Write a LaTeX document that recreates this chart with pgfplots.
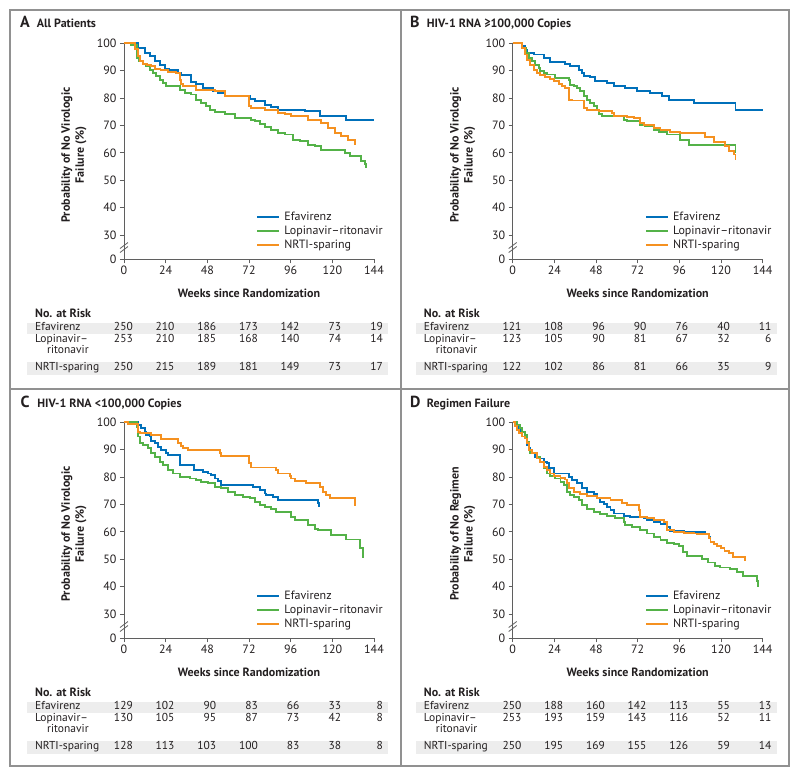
\documentclass[border=0pt]{standalone}
\usepackage{fontspec}
\setmainfont{PT Sans}
\usepackage{pgfplots}
\pgfplotsset{compat=1.18}

\definecolor{efv}{RGB}{0,112,186}
\definecolor{lpv}{RGB}{84,178,72}
\definecolor{nrti}{RGB}{245,145,32}
\definecolor{framec}{RGB}{145,145,145}
\definecolor{band}{RGB}{237,237,237}
\definecolor{txt}{RGB}{35,31,32}
\definecolor{axisc}{RGB}{95,95,95}

\pgfplotsset{
  km/.style={
    scale only axis, width=250pt, height=216pt,
    xmin=0, xmax=144, ymin=21.13, ymax=100,
    axis lines=left, axis line style={-, axisc, line width=0.9pt},
    xtick={0,24,48,72,96,120,144},
    xticklabels={0,24,48,72,96,120,144},
    ytick={21.13,30,40,50,60,70,80,90,100},
    yticklabels={0,30,40,50,60,70,80,90,100},
    tick align=outside, major tick length=4pt,
    tick style={axisc, line width=0.8pt},
    ticklabel style={font=\fontsize{12}{13}\selectfont, text=txt},
    xticklabel style={yshift=1pt},
    label style={font=\bfseries\fontsize{12}{14}\selectfont, text=txt},
    xlabel={Weeks since Randomization},
    xlabel style={at={(axis description cs:0.5,-0.156)}, anchor=center},
    ylabel style={at={(axis description cs:-0.2,0.483)}, anchor=center, align=center},
    clip=false,
    legend style={at={(0.517,0.233)}, anchor=north west, draw=none, fill=none,
      font=\fontsize{12}{13}\selectfont, text=txt, row sep=2pt,
      nodes={inner sep=0pt, text height=9pt, text depth=3pt},
      /tikz/every odd column/.style={column sep=4pt}},
    legend cell align=left,
    legend image code/.code={\draw[#1] (0pt,0pt) -- (22pt,0pt);},
    every axis plot/.append style={const plot, line width=1.9pt},
  }
}

% break marks on the y axis
\newcommand{\ybreak}{%
  \draw[axisc, line width=0.8pt] ([shift={(-4pt,-6pt)}]axis cs:0,25.8) -- ++(8pt,6pt);
  \draw[axisc, line width=0.8pt] ([shift={(-4pt,-2pt)}]axis cs:0,25.8) -- ++(8pt,6pt);
}

% panel title: #1 x, #2 y, #3 letter, #4 text
\newcommand{\ptitle}[4]{%
  \node[anchor=mid west, inner sep=0pt, text=txt, font=\bfseries\fontsize{16}{16}\selectfont] at (#1pt,#2pt) {#3};
  \node[anchor=mid west, inner sep=0pt, text=txt, font=\bfseries\fontsize{12}{13}\selectfont] at (#1pt+16.7pt,#2pt) {#4};
}

% risk table: #1 x origin, #2 y of the x axis, #3 efv, #4 lpv, #5 nrti
\newcommand{\risktable}[5]{%
  \begin{scope}[shift={(#1pt,#2pt)}, every node/.style={inner sep=0pt, text=txt, font=\fontsize{11.5}{13}\selectfont}]
    \fill[band] (-97pt,-63.2pt) rectangle (264pt,-74.4pt);
    \fill[band] (-97pt,-102.6pt) rectangle (264pt,-115.8pt);
    \node[anchor=mid west, font=\bfseries\fontsize{12}{13}\selectfont] at (-89pt,-55.7pt) {No. at Risk};
    \node[anchor=mid west] at (-89pt,-69pt) {Efavirenz};
    \node[anchor=mid west] at (-89pt,-80.7pt) {Lopinavir–};
    \node[anchor=mid west] at (-77pt,-91.5pt) {ritonavir};
    \node[anchor=mid west] at (-89pt,-109pt) {NRTI-sparing};
    \foreach \v [count=\i from 0] in {#3} \node[anchor=mid east] at ({\i*41.667pt+9pt},-69pt) {\v};
    \foreach \v [count=\i from 0] in {#4} \node[anchor=mid east] at ({\i*41.667pt+9pt},-80.7pt) {\v};
    \foreach \v [count=\i from 0] in {#5} \node[anchor=mid east] at ({\i*41.667pt+9pt},-109pt) {\v};
  \end{scope}
}

\begin{document}
\begin{tikzpicture}
\useasboundingbox (0,0) rectangle (800pt,-776pt);

% panel frames
\draw[framec, line width=1.2pt] (10pt,-10pt) rectangle (789pt,-766pt);
\draw[framec, line width=1.2pt] (401pt,-10pt) -- (401pt,-766pt);
\draw[framec, line width=1.2pt] (10pt,-389pt) -- (789pt,-389pt);

% ---------------- A
\ptitle{20}{-25}{A}{All Patients}
\begin{axis}[km, at={(124pt,-259.3pt)}, anchor=south west,
  ylabel={Probability of No Virologic\\Failure (\%)}]
\addplot[efv] coordinates {(0,100)(7.1,100)(8.1,98.3)(11.9,96.5)(14.8,95.3)(17.7,93.7)(20.5,92.2)(23.4,90.8)(26,90.3)(31.1,89)(33,88.3)(38.8,86)(41.7,85)(45.5,83.7)(51.3,82.7)(54.1,81.9)(58,80.7)(72.4,79.8)(75.3,78.8)(81,77.6)(84.9,76.6)(88.7,75.8)(104,75.2)(112.7,73.4)(128,72.1)(144,72.1)};
\addplot[lpv] coordinates {(0,100)(4.2,99.3)(7.7,94.6)(8.4,93.4)(10.9,92.6)(12.9,91.6)(14.8,90.4)(16.7,89.2)(18.6,88)(20.5,86.7)(22.5,85.5)(24.4,84.3)(32.1,83.1)(34.9,81.9)(38.8,81.3)(41.7,79.4)(44.5,78.2)(47.4,77)(49.3,75.8)(52.2,74.9)(58,74.2)(63.7,72.7)(73.3,72.1)(75.3,71.5)(78.1,70.6)(81,69.3)(84.9,68.5)(88.7,67.3)(92.6,66.7)(97.4,64.8)(101.2,64.2)(106,63)(109.8,62.4)(113.7,61.2)(127.1,60)(130,58.8)(136.7,56.9)(138.6,55.8)(139.4,54.3)};
\addplot[nrti] coordinates {(0,100)(5.2,100)(6.1,98)(8.1,95.3)(9,93.4)(10.9,92.6)(13,92)(15.7,91.6)(17.7,90.6)(21,90.2)(25.3,89.5)(30,89)(32.1,86.7)(33,85)(34,84.3)(41.7,83.1)(52.2,82.5)(58,80.7)(71.8,77)(73.3,76.4)(81,75.8)(88.7,74.6)(92.6,74.2)(96.4,73.4)(106,72.1)(113.7,70.9)(117.5,69.1)(121.4,67.3)(125.2,66.1)(129,64.8)(132.9,63.6)(133.3,63)};
\legend{Efavirenz,Lopinavir–ritonavir,NRTI-sparing}
\ybreak
\end{axis}
\risktable{124}{-259.3}{250,210,186,173,142,73,19}{253,210,185,168,140,74,14}{250,215,189,181,149,73,17}

% ---------------- B
\ptitle{410}{-25}{B}{HIV-1 RNA ≥100,000 Copies}
\begin{axis}[km, at={(512.7pt,-259.3pt)}, anchor=south west,
  ylabel={Probability of No Virologic\\Failure (\%)}]
\addplot[efv] coordinates {(0,100)(4.4,100)(5.4,98.9)(7.3,97.7)(8.3,96.5)(12.1,95.9)(17.9,94.6)(21.7,93.2)(30.3,92.5)(33.2,91.6)(38,90.4)(39.9,89.2)(40.9,88)(44.7,87.6)(47.6,86.1)(54.3,85.5)(58.2,84.3)(64.9,83.7)(71.6,82.7)(79.3,81.9)(86,80.7)(89.9,79.4)(104.3,78.2)(128.3,75.8)(144,75.8)};
\addplot[lpv] coordinates {(0,100)(5.4,98.3)(7.9,96.5)(9.2,94.6)(11.1,93.4)(13.1,92.2)(15,91)(15.9,89.8)(17.9,89.2)(19.8,88.6)(24.6,87.3)(32.3,86.7)(33.2,84.9)(35.1,84.3)(37.1,83.7)(39,82.5)(40.9,80.7)(42.8,79.4)(44.7,78.2)(46.7,77)(48.6,75.8)(49.5,74.2)(51.5,73.4)(63.9,72.1)(65.9,71.5)(73.5,70.3)(76.4,69.7)(81.2,68.5)(84.1,67.5)(88.9,66.7)(96.6,64.8)(101.4,63)(128.3,63)(128.3,60)};
\addplot[nrti] coordinates {(0,100)(5.4,98.3)(7.3,95.9)(8.3,94)(10.2,92.2)(12.1,90.4)(14,89.2)(15.9,88.3)(18.8,87.6)(21.7,87.1)(23.6,86.1)(26.5,85.2)(28.4,84.3)(30.3,83.7)(32.3,79.4)(34,79.1)(40.9,76.4)(42.8,75.8)(49.5,75.4)(57.2,74.6)(58.2,73.4)(65.9,73)(69.7,72.7)(73.5,70.9)(75.5,70.1)(81.2,69.1)(85.1,68.5)(90.8,67.5)(96.6,67.3)(111,65.7)(115.8,64)(122.5,62.4)(124.4,60.8)(127.3,59.4)(128.3,57.5)};
\legend{Efavirenz,Lopinavir–ritonavir,NRTI-sparing}
\ybreak
\end{axis}
\risktable{512.7}{-259.3}{121,108,96,90,76,40,11}{123,105,90,81,67,32,6}{122,102,86,81,66,35,9}

% ---------------- C
\ptitle{20.5}{-405}{C}{HIV-1 RNA <100,000 Copies}
\begin{axis}[km, at={(124pt,-638.3pt)}, anchor=south west,
  ylabel={Probability of No Virologic\\Failure (\%)}]
\addplot[efv] coordinates {(0,100)(7.1,100)(8.1,99)(10,97.8)(11.9,96.6)(12.9,95.4)(14.8,94.8)(15.7,93.3)(17.7,92.3)(19.6,91.1)(21.5,89.9)(24.4,88.7)(25.3,88)(32.1,84.4)(40.3,82.6)(45.5,82)(48.4,81.3)(50.3,80.7)(52.2,79.5)(54.1,78.7)(56.1,77.1)(74.3,76.5)(78.1,75.2)(81,74)(82,73.4)(85.8,72.8)(88.7,71.6)(111.8,70.4)(112.3,68.9)};
\addplot[lpv] coordinates {(0,100)(7.1,100)(7.7,98.4)(8.1,94.8)(9,92.3)(10.9,91.7)(13.8,90.5)(15.7,88.7)(17.7,87.4)(20.5,85.6)(22.5,84.4)(25.3,82.6)(28.2,81.3)(32.1,80.1)(37.8,79.5)(41.7,78.9)(44.5,78.3)(48.4,77.7)(52.2,76.5)(56.1,75.9)(59.9,74.6)(63.7,73.4)(68.5,72.8)(72.4,72.2)(75.3,71)(78.1,69.8)(81,69.1)(84.9,68.2)(87.7,67.3)(96.4,65.5)(98.3,64.3)(106,62.4)(109.8,61.2)(111.8,60.6)(119.4,59)(128,57.2)(135.8,54.2)(137.7,50.3)};
\addplot[nrti] coordinates {(0,100)(2.3,99.4)(8.1,96.6)(9,96)(15.7,95.4)(21.5,93.8)(31.1,92.6)(33,91.3)(34,90.5)(36.9,89.9)(55.1,88.7)(56.1,87.7)(72,85)(73,83.5)(87.7,82.6)(88.7,81.3)(95.4,80.5)(96.4,79.5)(98.3,78.7)(105,77.7)(112.7,76.5)(114.6,74.6)(116.5,73.4)(118.5,72.4)(133,72.4)(133.3,69.4)};
\legend{Efavirenz,Lopinavir–ritonavir,NRTI-sparing}
\ybreak
\end{axis}
\risktable{124}{-638.3}{129,102,90,83,66,33,8}{130,105,95,87,73,42,8}{128,113,103,100,83,38,8}

% ---------------- D
\ptitle{410}{-405}{D}{Regimen Failure}
\begin{axis}[km, at={(512.7pt,-638.3pt)}, anchor=south west,
  ylabel={Probability of No Regimen\\Failure (\%)}]
\addplot[efv] coordinates {(0,100)(1.5,100)(2.5,99)(3.5,97.8)(4.4,96)(5.4,94.8)(7.3,94.1)(8.3,91.7)(9.2,90.5)(10.2,89.9)(11.1,88.7)(13.1,87.4)(15.9,86.8)(17.9,85.6)(19.8,85)(20.7,83.2)(23.6,81.3)(32.3,80.1)(34.2,78.9)(37.1,77.7)(39.9,75.9)(42.8,74.6)(46.7,73.8)(48.6,72.2)(50.5,71)(52.4,70.1)(54.3,69.1)(56.3,67.9)(58.2,66.7)(63.9,65.7)(67.8,65.5)(75.5,64.9)(77.4,64.3)(81.2,63.7)(85.1,63)(88.9,61.8)(90.8,60.4)(98.5,60)(111,59.1)(112.9,58.2)(113.9,57.2)};
\addplot[lpv] coordinates {(0,100)(1.5,100)(2.5,99)(4.4,97.8)(5.4,96.6)(7.3,95.4)(8.3,92.9)(9.2,89.9)(10.2,88.7)(14,87.4)(15.9,85.6)(17.9,83.2)(19.8,81.3)(21.7,80.4)(24.6,79.5)(27.5,78.3)(29.4,77.1)(31.3,74.6)(33.2,73.4)(35.1,72.8)(38,71.6)(39.9,69.8)(42.8,68.5)(46.7,67.3)(50.5,66.5)(54.3,65.9)(59.1,64.9)(63.9,63.7)(64.9,62.4)(68.7,61.8)(73.5,60.6)(77.4,59.4)(81.2,58.2)(85.1,57)(88.9,56)(92.7,55.5)(95.6,54.8)(98.3,52.5)(100.2,51.3)(108.9,50)(112.7,48.8)(116.6,47.6)(119.4,47)(125.2,46.4)(129,45.5)(132.9,44)(140.6,42.1)(141.5,39.7)};
\addplot[nrti] coordinates {(0,100)(0.6,100)(1.5,98.8)(2.5,97.2)(3.5,96)(5.4,94.8)(7.3,94.1)(8.3,92.3)(9.2,89.9)(11.1,88.7)(14,86.8)(15.9,85.6)(17.9,83.8)(19.8,82.6)(21.7,81.3)(23.6,80.4)(27.5,79.8)(30.3,79.1)(31.3,77.7)(32.3,75.9)(35.1,74.6)(39,73.8)(42.8,73.2)(48.6,72.2)(56.3,71.6)(63,70.7)(65.9,69.8)(72.6,67.9)(73.5,65.5)(77.4,64.9)(81.2,64.3)(87,63.7)(88.9,60.6)(92.7,60)(98.5,59.6)(104.3,59.4)(106.2,59.1)(112.9,57.9)(113.9,56.3)(115.8,55.7)(117.7,54.8)(120,54)(122,53)(124.5,52.2)(127,50.7)(133.8,49.5)};
\legend{Efavirenz,Lopinavir–ritonavir,NRTI-sparing}
\ybreak
\end{axis}
\risktable{512.7}{-638.3}{250,188,160,142,113,55,13}{253,193,159,143,116,52,11}{250,195,169,155,126,59,14}

\end{tikzpicture}
\end{document}
